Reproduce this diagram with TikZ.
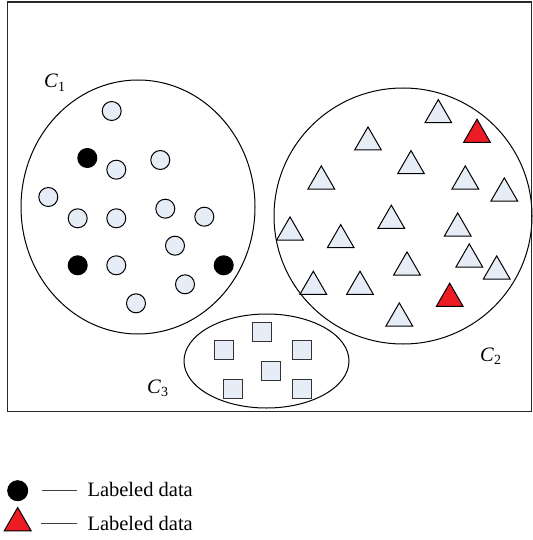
\documentclass[tikz,border=0pt]{standalone}
\usepackage{fontspec}
\setmainfont{Liberation Serif}
\usetikzlibrary{shapes.geometric}
\definecolor{ptfill}{RGB}{230,237,246}
\definecolor{ptred}{RGB}{237,28,36}
\definecolor{framecol}{RGB}{40,40,40}
\tikzset{
  cpt/.style={circle,draw=black,line width=1pt,fill=ptfill,minimum size=19pt,inner sep=0pt},
  lpt/.style={circle,draw=black,line width=1pt,fill=black,minimum size=19pt,inner sep=0pt},
  spt/.style={rectangle,draw=black!80,line width=1.1pt,fill=ptfill,minimum size=19pt,inner sep=0pt},
  tpt/.style={regular polygon,regular polygon sides=3,draw=black,line width=1pt,fill=ptfill,minimum size=30.8pt,inner sep=0pt,outer sep=0pt},
  rpt/.style={tpt,fill=ptred},
  clus/.style={ellipse,draw=black,line width=1pt,inner sep=0pt},
  clab/.style={font=\fontsize{20.5}{20.5}\selectfont,inner sep=0pt,anchor=base west},
  ltext/.style={font=\fontsize{20.5}{20.5}\selectfont,inner sep=0pt,anchor=base west},
  lline/.style={draw=black!75,line width=1.3pt}
}
\newcommand{\clabel}[2]{\textit{#1}\raisebox{-0.35ex}{\fontsize{14}{14}\selectfont #2}}
\begin{document}
\begin{tikzpicture}[x=1pt,y=-1pt]
\useasboundingbox (0,0) rectangle (532,540);
% frame
\node[draw=framecol,line width=1.3pt,minimum width=524pt,minimum height=409pt,inner sep=0pt,anchor=north west] (frame) at (7,1.5) {};
% clusters
\node[clus,minimum width=234pt,minimum height=254pt] (c1) at (138,207) {};
\node[clus,minimum width=258pt,minimum height=256pt] (c2) at (403,216) {};
\node[clus,minimum width=165pt,minimum height=94pt] (c3) at (266.5,361) {};
% cluster labels
\node[clab] (l1) at (44,88) {\clabel{C}{1}};
\node[clab] (l2) at (480,361.5) {\clabel{C}{2}};
\node[clab] (l3) at (147,393) {\clabel{C}{3}};
% C1 points
\node[cpt] (p1) at (111.7,111) {};
\node[lpt] (p2) at (87.3,158) {};
\node[cpt] (p3) at (116.3,169.7) {};
\node[cpt] (p4) at (160.3,160) {};
\node[cpt] (p5) at (48.3,197) {};
\node[cpt] (p6) at (77.7,218.3) {};
\node[cpt] (p7) at (116.3,218.3) {};
\node[cpt] (p8) at (165.3,208.7) {};
\node[cpt] (p9) at (204.3,216.7) {};
\node[cpt] (p10) at (175,245.7) {};
\node[lpt] (p11) at (77.7,265.3) {};
\node[cpt] (p12) at (116.3,265.3) {};
\node[lpt] (p13) at (223.7,265.3) {};
\node[cpt] (p14) at (185,284.3) {};
\node[cpt] (p15) at (136,303.3) {};
% C2 points (y = base - 7.7)
\node[tpt] (t1) at (438.3,115) {};
\node[rpt] (t2) at (477,134.6) {};
\node[tpt] (t3) at (368,142.3) {};
\node[tpt] (t4) at (411,166) {};
\node[tpt] (t5) at (321.3,181.3) {};
\node[tpt] (t6) at (465.3,181.3) {};
\node[tpt] (t7) at (504.3,193.3) {};
\node[tpt] (t8) at (391.3,220.6) {};
\node[tpt] (t9) at (457.7,228.3) {};
\node[tpt] (t10) at (290,232.3) {};
\node[tpt] (t11) at (340.7,240) {};
\node[tpt] (t12) at (469.3,259.3) {};
\node[tpt] (t13) at (407,267.3) {};
\node[tpt] (t14) at (496.7,271.3) {};
\node[tpt] (t15) at (313.3,286.6) {};
\node[tpt] (t16) at (360,286.6) {};
\node[rpt] (t17) at (449.7,298.6) {};
\node[tpt] (t18) at (399.3,318.3) {};
% C3 points
\node[spt] (s1) at (261.7,332.3) {};
\node[spt] (s2) at (223.7,350) {};
\node[spt] (s3) at (301.7,350) {};
\node[spt] (s4) at (271.3,371.3) {};
\node[spt] (s5) at (233.3,389) {};
\node[spt] (s6) at (301.7,389) {};
% legend
\node[lpt,minimum size=20pt] (lc) at (17.7,490.7) {};
\node[rpt,minimum size=31pt] (lt) at (17.7,523) {};
\node[ltext] (lt1) at (87.3,496.5) {Labeled data};
\node[ltext] (lt2) at (87.3,530.5) {Labeled data};
\coordinate (a1) at (41.7,490.7);
\coordinate (b1) at (76.7,490.7);
\coordinate (a2) at (40.5,523.3);
\coordinate (b2) at (76.7,523.3);
\draw[lline] (a1) -- (b1);
\draw[lline] (a2) -- (b2);
\end{tikzpicture}
\end{document}
